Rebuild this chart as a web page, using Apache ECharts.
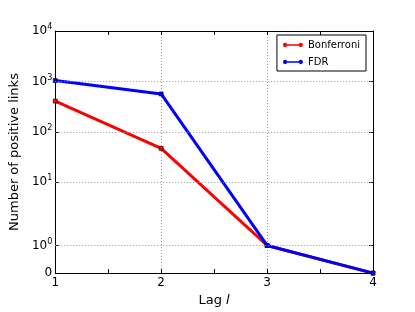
<!DOCTYPE html>
<html><head><meta charset="utf-8">
<script src="https://cdn.jsdelivr.net/npm/echarts@6/dist/echarts.min.js"></script>
<style>html,body{margin:0;padding:0;background:#fff}#c{width:415px;height:312px}</style>
</head><body><div id="c"></div>
<script>
var lags = [1, 2, 3, 4];
var bonferroni = [408, 47, 1, 0];
var fdr = [1040, 564, 1, 0];
var yTickValues = [0, 1, 10, 100, 1000, 10000];
var yTickSup = ['', '0', '1', '2', '3', '4'];
var xTicks = [1, 2, 3, 4];

// axis transform (picture units: one decade = 1)
function tf(v) {
  if (v >= 10) return Math.log10(v);
  if (v >= 1) return 1 - (1 - Math.log10(v)) * 1.252;
  return -0.252 - (1 - v) * 0.548;
}
var tickPos = yTickValues.map(tf);
function labelFor(p) {
  var best = 0, d = 1e9;
  for (var i = 0; i < tickPos.length; i++) { var dd = Math.abs(tickPos[i] - p); if (dd < d) { d = dd; best = i; } }
  if (yTickValues[best] === 0) return '{b|0}';
  return '{b|10}{s|' + yTickSup[best] + '}';
}
function mk(arr) { return arr.map(function (v, i) { return [lags[i], tf(v)]; }); }

var legendIcon = 'path://M1,5a3,3 0 1,0 6,0a3,3 0 1,0 -6,0ZM23,5a3,3 0 1,0 6,0a3,3 0 1,0 -6,0ZM4,3.8L4,6.2L26,6.2L26,3.8Z';
var font = 'DejaVu Sans';
var chart = echarts.init(document.getElementById('c'), null, {renderer: 'canvas'});
chart.setOption({
  animation: false,
  backgroundColor: '#fff',
  textStyle: {fontFamily: font},
  grid: {left: 52, right: 42, top: 31, bottom: 32, containLabel: false},
  legend: {
    right: 49, top: 35, orient: 'vertical',
    itemWidth: 20, itemHeight: 6, itemGap: 7,
    padding: [5, 6, 4, 6],
    borderColor: '#000', borderWidth: 1, borderRadius: 0,
    textStyle: {fontFamily: font, fontSize: 10, color: '#000'},
    data: [
      {name: 'Bonferroni', icon: legendIcon, itemStyle: {color: '#ff0000', borderColor: '#ff0000', borderWidth: 0}, lineStyle: {color: '#ff0000', width: 0}},
      {name: 'FDR', icon: legendIcon, itemStyle: {color: '#0000ff', borderColor: '#0000ff', borderWidth: 0}, lineStyle: {color: '#0000ff', width: 0}}
    ]
  },
  xAxis: [{
    type: 'value', min: 1, max: 4, interval: 1,
    name: 'Lag {i|l}', nameLocation: 'middle', nameGap: 16,
    nameTextStyle: {fontFamily: font, fontSize: 13, color: '#000', rich: {i: {fontStyle: 'italic', fontFamily: font, fontSize: 13}}},
    axisLine: {onZero: false, lineStyle: {color: '#000', width: 1}},
    axisTick: {inside: true, length: 4, lineStyle: {color: '#000'}},
    minorTick: {show: true, splitNumber: 2, length: 4, lineStyle: {color: '#000'}},
    axisLabel: {fontFamily: font, fontSize: 12, color: '#000', margin: 4},
    splitLine: {show: true, lineStyle: {color: '#999', type: [1, 2], width: 1}}
  }, {
    type: 'value', min: 1, max: 4, interval: 1, position: 'top',
    axisLine: {onZero: false, lineStyle: {color: '#000', width: 1}},
    axisTick: {inside: true, length: 4, lineStyle: {color: '#000'}},
    minorTick: {show: true, splitNumber: 2, length: 4, lineStyle: {color: '#000'}},
    axisLabel: {show: false}, splitLine: {show: false}
  }],
  yAxis: [{
    type: 'value', min: tf(0), max: tf(10000),
    name: 'Number of positive links', nameLocation: 'middle', nameGap: 32,
    nameTextStyle: {fontFamily: font, fontSize: 13, color: '#000'},
    axisLine: {onZero: false, lineStyle: {color: '#000', width: 1}},
    axisTick: {inside: true, length: 4, customValues: tickPos, lineStyle: {color: '#000'}},
    axisLabel: {
      customValues: tickPos, margin: 3, color: '#000',
      formatter: function (v) { return labelFor(v); },
      rich: {b: {fontFamily: font, fontSize: 12, color: '#000'}, s: {fontFamily: font, fontSize: 8, color: '#000', verticalAlign: 'top', padding: [0, 0, 8, 0]}}
    },
    splitLine: {show: false}
  }, {
    type: 'value', min: tf(0), max: tf(10000), position: 'right',
    axisLine: {show: true, onZero: false, lineStyle: {color: '#000', width: 1}},
    axisTick: {inside: true, length: 4, customValues: tickPos, lineStyle: {color: '#000'}},
    axisLabel: {show: false}, splitLine: {show: false}
  }],
  series: [{
    name: 'Bonferroni', type: 'line', data: mk(bonferroni),
    color: '#ff0000',
    lineStyle: {width: 3, color: '#ff0000'},
    symbol: 'rect', symbolSize: 4, showSymbol: true,
    itemStyle: {color: '#ff0000', borderColor: '#000', borderWidth: 0.6},
    markLine: {
      silent: true, symbol: 'none', label: {show: false},
      lineStyle: {color: '#999', type: [1, 2], width: 1},
      data: tickPos.slice(1, 5).map(function (p) { return {yAxis: p}; })
    },
    z: 2
  }, {
    name: 'FDR', type: 'line', data: mk(fdr),
    color: '#0000ff',
    lineStyle: {width: 3, color: '#0000ff'},
    symbol: 'rect', symbolSize: 4, showSymbol: true,
    itemStyle: {color: '#0000ff', borderColor: '#000', borderWidth: 0.6},
    z: 3
  }]
});
</script></body></html>
